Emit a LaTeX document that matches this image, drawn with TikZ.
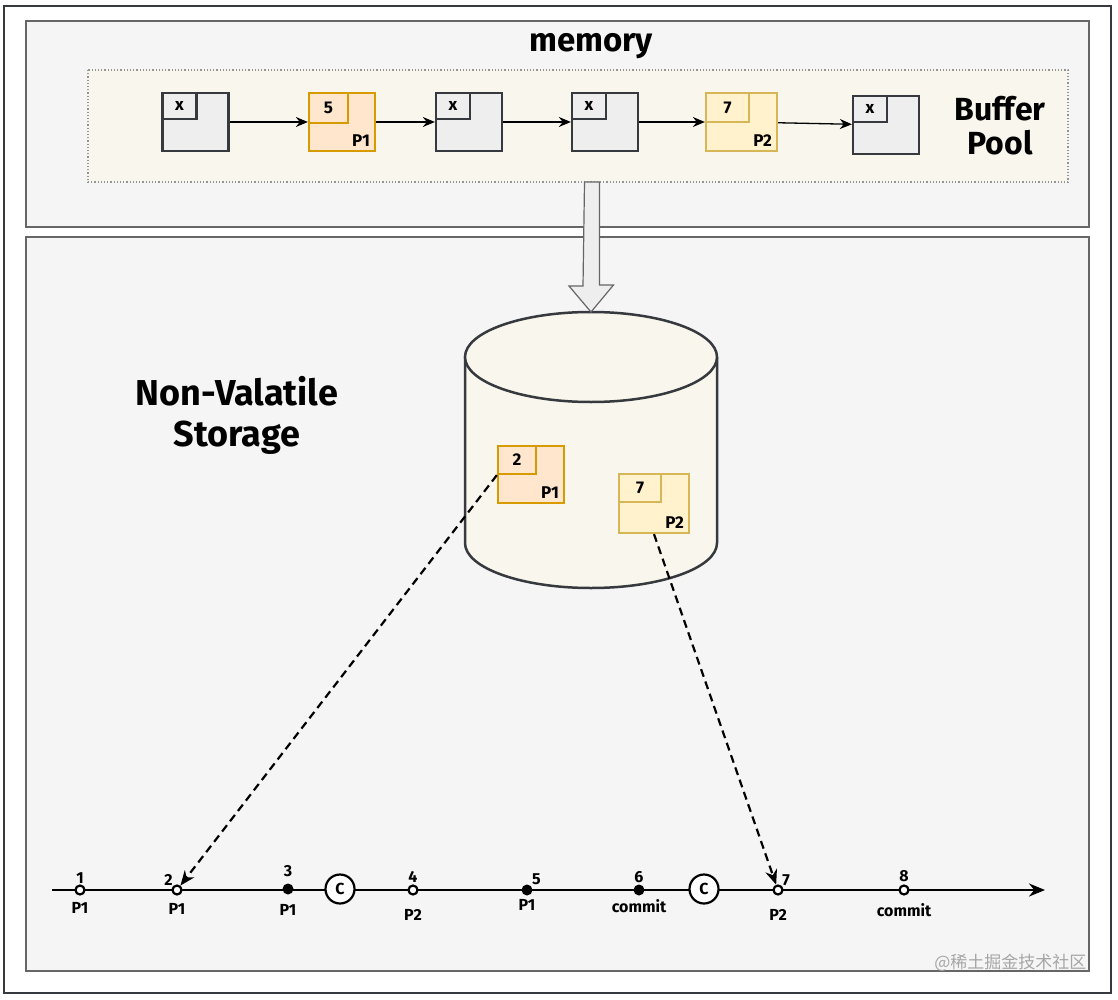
\documentclass[tikz,border=0pt]{standalone}
\usepackage{fontspec}
\setmainfont{Fira Sans}
\newfontfamily\cjkfont{Noto Sans CJK SC}
\usetikzlibrary{arrows.meta,positioning}
\definecolor{panelfill}{HTML}{F5F5F5}
\definecolor{panelline}{HTML}{666666}
\definecolor{cream}{HTML}{F9F7ED}
\definecolor{pagefill}{HTML}{EEEEEE}
\definecolor{pageline}{HTML}{36393D}
\definecolor{orangefill}{HTML}{FFE6CC}
\definecolor{orangeline}{HTML}{D79B00}
\definecolor{yellowfill}{HTML}{FFF2CC}
\definecolor{yellowline}{HTML}{D6B656}
\tikzset{
  panel/.style={rectangle,draw=panelline,fill=panelfill,line width=1.2pt},
  pagebox/.style={rectangle,draw=pageline,fill=pagefill,line width=2.3pt,inner sep=0pt,minimum width=66pt,minimum height=58pt},
  pageorange/.style={pagebox,draw=orangeline,fill=orangefill},
  pageyellow/.style={pagebox,draw=yellowline,fill=yellowfill},
  tagbox/.style={rectangle,draw=pageline,line width=2.3pt,inner sep=0pt,anchor=north west,font=\bfseries\fontsize{17}{17}\selectfont},
  pagetext/.style={anchor=south east,inner sep=0pt,xshift=-6pt,yshift=5pt,font=\bfseries\fontsize{17}{17}\selectfont},
  link/.style={-{Stealth[length=12pt,width=10pt]},line width=1.3pt},
  flush/.style={dashed,dash pattern=on 8pt off 5pt,-{Stealth[length=15pt,width=12pt]},line width=2.2pt},
  opendot/.style={circle,draw,fill=white,line width=2.2pt,inner sep=0pt,minimum size=9pt},
  fulldot/.style={circle,fill=black,inner sep=0pt,minimum size=11pt},
  ckpt/.style={circle,draw,fill=white,line width=2.2pt,inner sep=0pt,minimum size=29pt,font=\bfseries\fontsize{16}{16}\selectfont},
  every label/.style={font=\bfseries\fontsize{16}{16}\selectfont,inner sep=1pt}
}
\begin{document}
\begin{tikzpicture}[x=1pt,y=-1pt]
\useasboundingbox (0,0) rectangle (1118,1000);
\fill[white] (0,0) rectangle (1118,1000);
\draw[pageline,line width=1.5pt] (4,6) rectangle (1111,993);

% memory panel
\draw[panel] (26,21) rectangle (1089,227);
\node[font=\bfseries\fontsize{33}{33}\selectfont] (memtitle) at (591,46) {memory};
\draw[panelline!70,fill=cream,line width=1.2pt,dotted] (88,70) rectangle (1068,182);
\coordinate (pool) at (592,182);
\node[align=center,font=\bfseries\fontsize{32}{34}\selectfont] (pooltext) at (1000,126) {Buffer\\Pool};

% storage panel
\draw[panel] (26,237) rectangle (1089,971);
\node[align=center,font=\bfseries\fontsize{36}{41}\selectfont] (nvs) at (237,415) {Non-Valatile\\Storage};

% buffer pool pages
\node[pagebox] (b1) at (195.5,122) {};
\node[tagbox,minimum width=34pt,minimum height=26pt] at (b1.north west) {x};
\node[pageorange] (b2) at (342,122) {};
\node[tagbox,draw=orangeline,minimum width=39pt,minimum height=30pt] at (b2.north west) {5};
\node[pagetext] at (b2.south east) {P1};
\node[pagebox] (b3) at (469,122) {};
\node[tagbox,minimum width=34pt,minimum height=26pt] at (b3.north west) {x};
\node[pagebox] (b4) at (605,122) {};
\node[tagbox,minimum width=34pt,minimum height=26pt] at (b4.north west) {x};
\node[pageyellow,minimum width=71pt] (b5) at (741.5,122) {};
\node[tagbox,draw=yellowline,minimum width=43pt,minimum height=29pt] at (b5.north west) {7};
\node[pagetext] at (b5.south east) {P2};
\node[pagebox] (b6) at (886,125) {};
\node[tagbox,minimum width=34pt,minimum height=26pt] at (b6.north west) {x};

\draw[link] (b1) -- (b2);
\draw[link] (b2) -- (b3);
\draw[link] (b3) -- (b4);
\draw[link] (b4) -- (b5);
\draw[link] (b5) -- (b6);

% disk
\coordinate (disk) at (591,312);
\draw[pageline,fill=cream,line width=2.5pt] (465,357) -- (465,543) arc[start angle=180,end angle=0,x radius=126,y radius=45] -- (717,357);
\draw[pageline,fill=cream,line width=2.5pt] (591,357) ellipse [x radius=126,y radius=45];

% flush arrow
\draw[panelline,fill=pagefill,line width=1.2pt] (pool) ++(-7.5,0) -- ++(15,0) -- ++(0,103) -- ++(14,0) -- (disk) -- ++(-22,-26) -- ++(14,0) -- cycle;

% pages on disk
\node[pageorange,minimum height=57pt] (s2) at (531,474.5) {};
\node[tagbox,draw=orangeline,minimum width=38pt,minimum height=28pt] (s2t) at (s2.north west) {2};
\node[pagetext] at (s2.south east) {P1};
\node[pageyellow,minimum width=70pt,minimum height=59pt] (s7) at (654,503.5) {};
\node[tagbox,draw=yellowline,minimum width=42pt,minimum height=28pt] at (s7.north west) {7};
\node[pagetext] at (s7.south east) {P2};

% log timeline
\coordinate (tstart) at (52,890);
\coordinate (tend) at (1045,890);
\draw[line width=2.5pt,-{Stealth[length=16pt,width=13pt]}] (tstart) -- (tend);
\node[opendot,label={[label distance=0pt]above:1},label={[label distance=6pt]below:P1}] (t1) at (80,890) {};
\node[opendot,label={[label distance=-1pt]above left:2},label={[label distance=7pt]below:P1}] (t2) at (177,890) {};
\node[fulldot,label={[label distance=5pt]above:3},label={[label distance=9pt]below:P1}] (t3) at (288,889) {};
\node[ckpt] (c1) at (340,889) {C};
\node[opendot,label={[label distance=1pt]above:4},label={[label distance=13pt]below:P2}] (t4) at (413,890) {};
\node[fulldot,label={[label distance=0pt]above right:5},label={[label distance=3pt]below:P1}] (t5) at (527,890) {};
\node[fulldot,label={[label distance=0pt]above:6},label={[label distance=3pt]below:commit}] (t6) at (639,890) {};
\node[ckpt] (c2) at (704,889) {C};
\node[opendot,label={[label distance=-1pt]above right:7},label={[label distance=13pt]below:P2}] (t7) at (778,890) {};
\node[opendot,label={[label distance=1pt]above:8},label={[label distance=7pt]below:commit}] (t8) at (904,890) {};

\draw[flush] (s2t.south west) -- (t2);
\draw[flush] (s7.south) -- (t7);

% watermark
\node[anchor=east,text=black!35,font=\cjkfont\fontsize{17}{17}\selectfont] (mark) at (1090,963) {@稀土掘金技术社区};
\end{tikzpicture}
\end{document}
